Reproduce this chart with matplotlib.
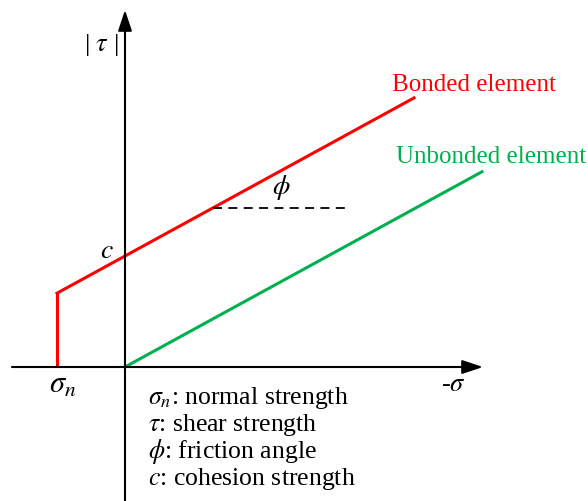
import matplotlib
matplotlib.use("Agg")
import matplotlib.pyplot as plt
import numpy as np

plt.rcParams['font.family'] = ['Liberation Serif', 'DejaVu Serif']
plt.rcParams['mathtext.fontset'] = 'stix'

# strength envelope parameters (normalised units)
sigma_n = -0.68        # normal (tensile) strength
cohesion = 1.11        # c
tan_phi = 0.547        # friction coefficient
bonded_end = 2.89
unbonded_end = 3.57
phi_marker_end = 2.20

legend_lines = [r"$\sigma_n$: normal strength",
                r"$\tau$: shear strength",
                r"$\phi$: friction angle",
                r"$c$: cohesion strength"]

RED = "#FF0000"
GREEN = "#00B050"

fig = plt.figure(figsize=(5.88, 5.02), dpi=100)
ax = fig.add_axes([0, 0, 1, 1])
ax.set_xlim(-1.25, 4.63)
ax.set_ylim(-1.34, 3.68)
ax.axis("off")

# axes with arrow heads
arrow = dict(arrowstyle="-|>,head_length=0.9,head_width=0.3", color="black",
             lw=1.5, mutation_scale=14, shrinkA=0, shrinkB=0)
ax.annotate("", xy=(3.58, 0), xytext=(-1.13, 0), arrowprops=arrow)
ax.annotate("", xy=(0, 3.57), xytext=(0, -1.34), arrowprops=arrow)

# bonded element: tension cut-off then Coulomb line
y_sn = cohesion + tan_phi * sigma_n
ax.plot([sigma_n, sigma_n], [0, y_sn], color=RED, lw=2.2, solid_capstyle="butt")
xb = np.array([sigma_n, bonded_end])
ax.plot(xb, cohesion + tan_phi * xb, color=RED, lw=2.2, solid_joinstyle="miter")

# unbonded element: pure friction
xu = np.array([0, unbonded_end])
ax.plot(xu, tan_phi * xu, color=GREEN, lw=2.2)

# friction angle marker
y_phi = 1.59
x_phi = (y_phi - cohesion) / tan_phi
ax.plot([x_phi, phi_marker_end], [y_phi, y_phi], color="black", lw=1.3,
        dashes=(5, 3.5))
ax.text(1.56, 1.80, r"$\phi$", fontsize=20, ha="center", va="center")

# labels
ax.text(-0.18, 1.17, r"$c$", fontsize=20, ha="center", va="center")
ax.text(-0.62, -0.17, r"$\sigma_n$", fontsize=22, ha="center", va="center")
ax.text(-0.24, 3.23, r"| $\tau$ |", fontsize=19, ha="center", va="center")
ax.text(3.28, -0.17, r"-$\sigma$", fontsize=19, ha="center", va="center")
ax.text(3.49, 2.83, "Bonded element", fontsize=18, color=RED,
        ha="center", va="center")
ax.text(3.66, 2.11, "Unbonded element", fontsize=18, color=GREEN,
        ha="center", va="center")

for i, line in enumerate(legend_lines):
    ax.text(0.23, -0.30 - 0.27 * i, line, fontsize=18.5, ha="left", va="center")

fig.savefig("out.png", dpi=100)
